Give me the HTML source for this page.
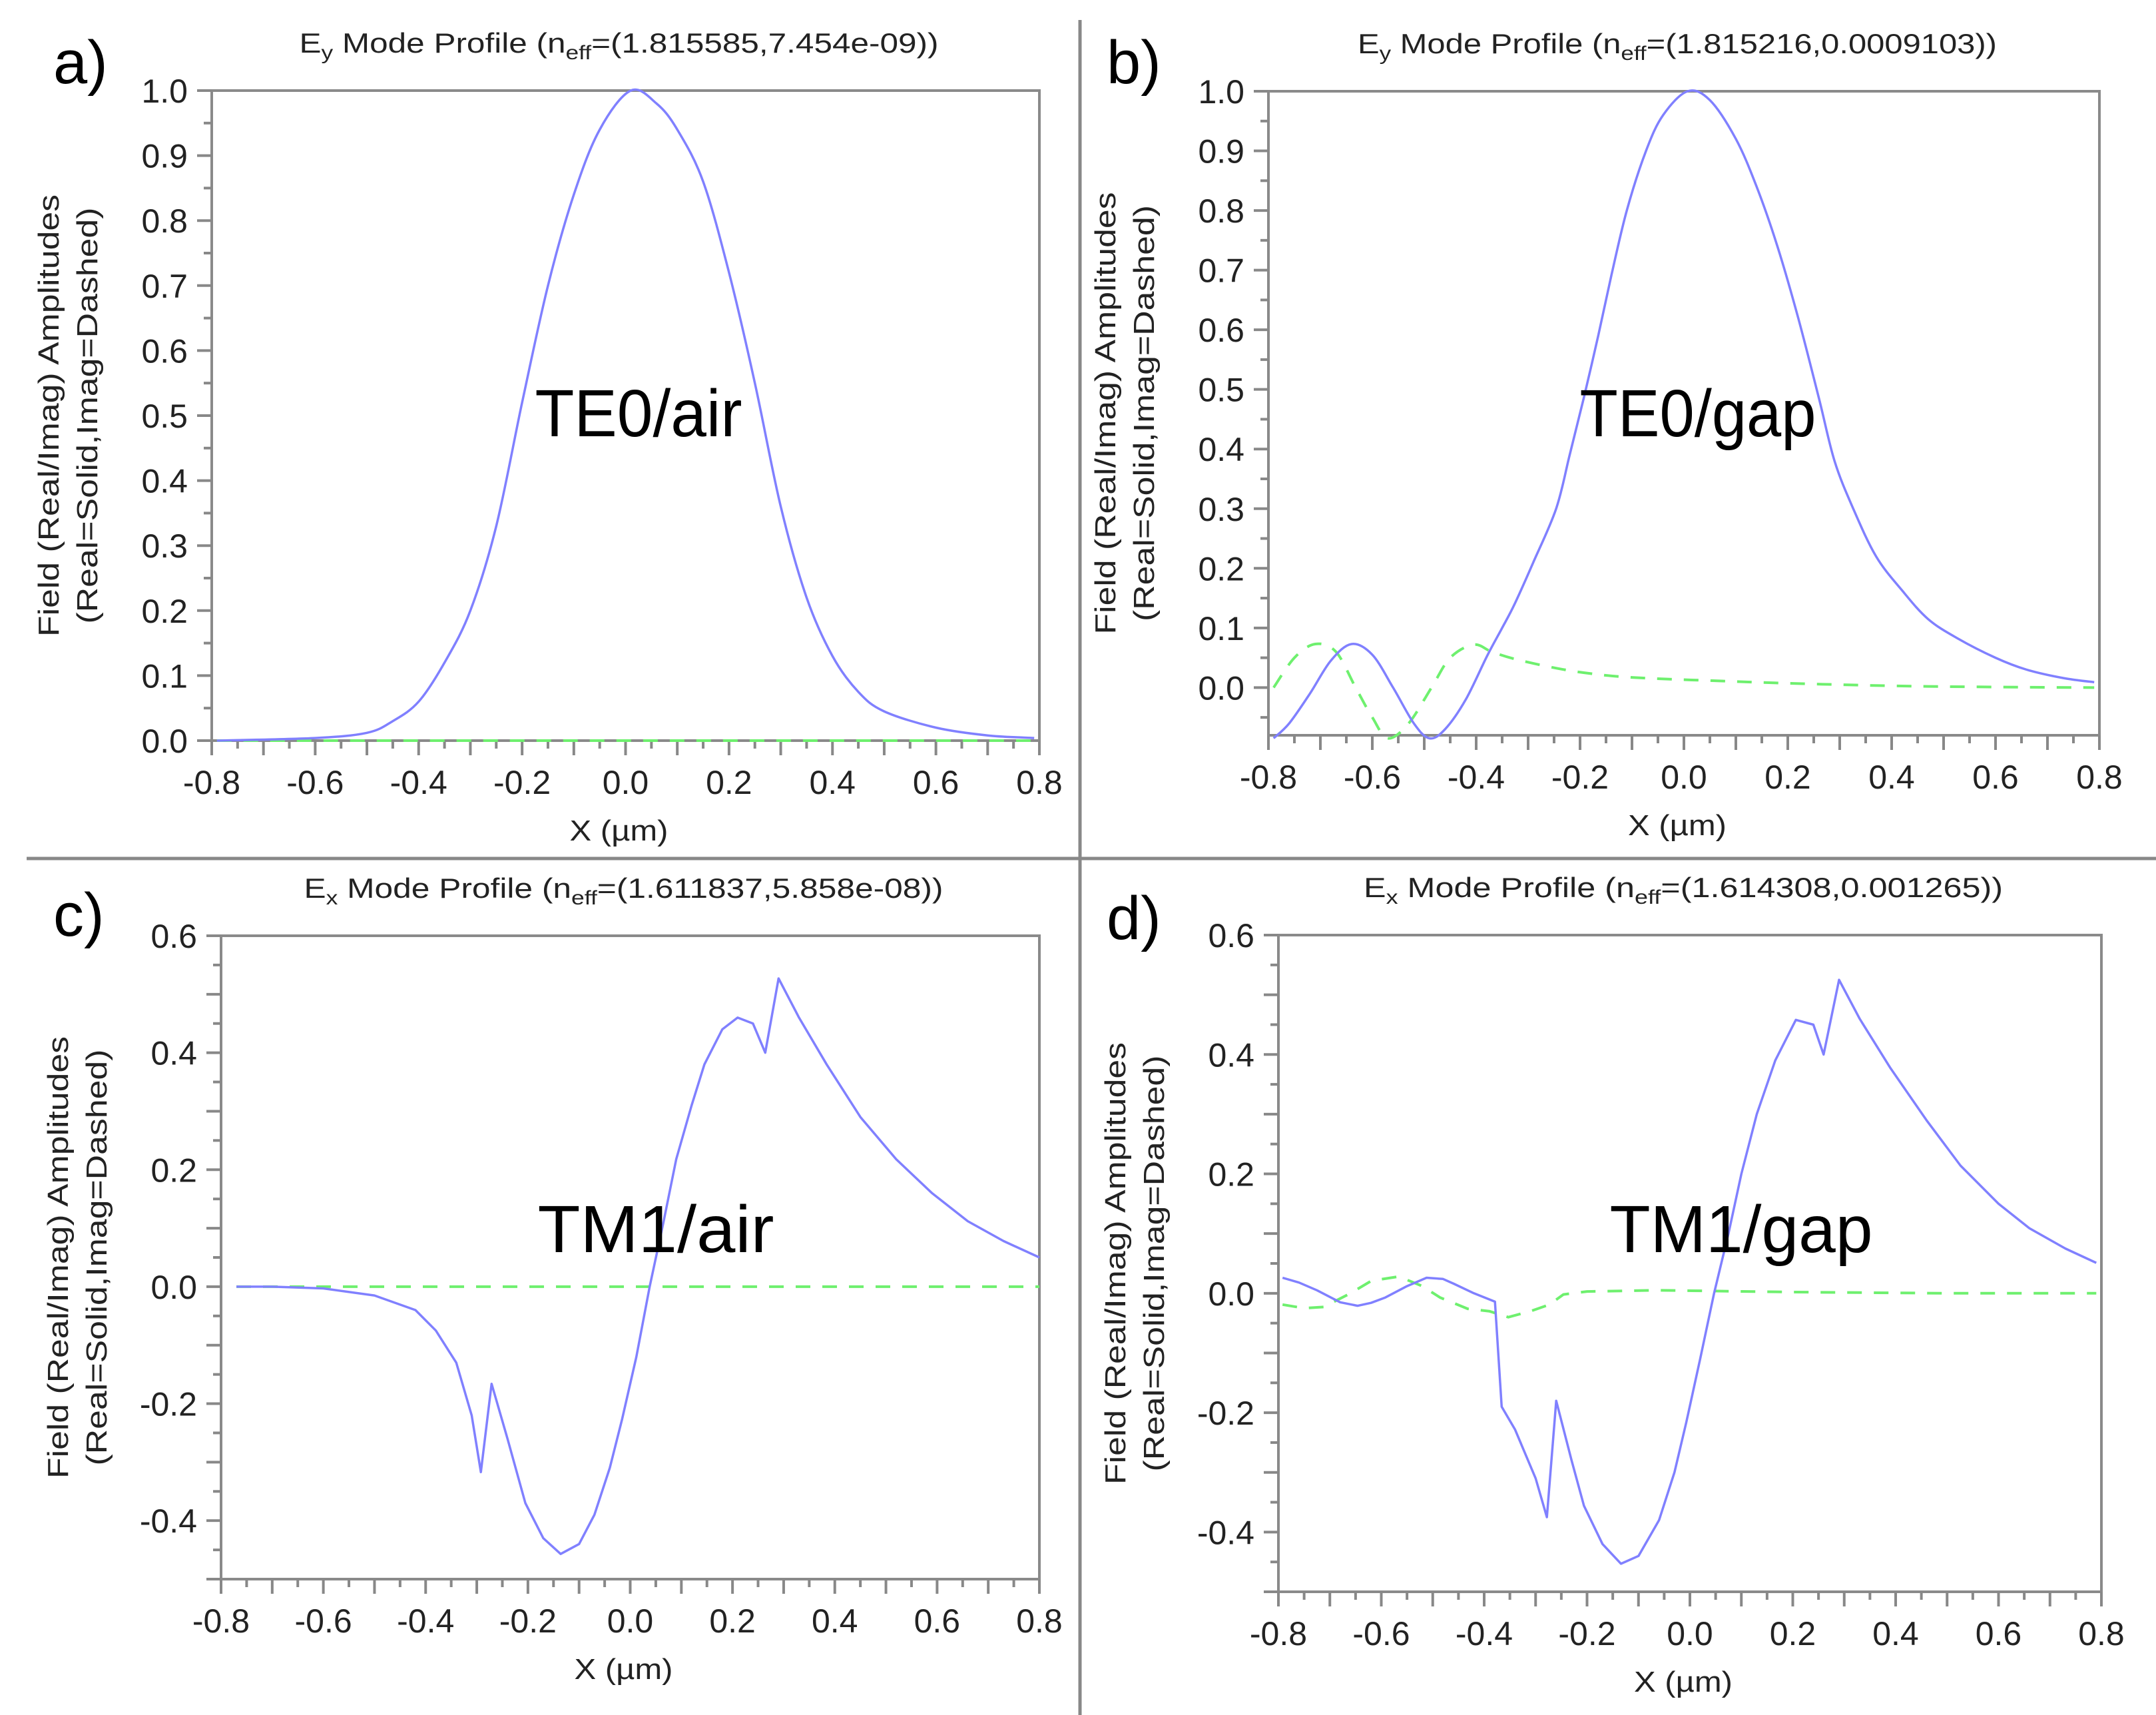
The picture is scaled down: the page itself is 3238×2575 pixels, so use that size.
<!DOCTYPE html>
<html><head><meta charset="utf-8"><style>
html,body{margin:0;padding:0;background:#fff;}
svg{display:block;}
text{font-family:"Liberation Sans",sans-serif;fill:#222;}
</style></head><body>
<svg id="fig" width="3238" height="2575" viewBox="0 0 3238 2575" xmlns="http://www.w3.org/2000/svg">
<rect width="3238" height="2575" fill="#fff"/>
<line x1="1622" y1="30" x2="1622" y2="2575" stroke="#888" stroke-width="5"/>
<line x1="40" y1="1289" x2="3238" y2="1289" stroke="#888" stroke-width="5"/>
</svg>
<script>
// ---- Panel a data ----
const aRealX = [-0.79,-0.6,-0.5,-0.45,-0.4,-0.35,-0.3,-0.25,-0.2,-0.15,-0.1,-0.05,0.01,0.06,0.1,0.15,0.2,0.25,0.3,0.35,0.4,0.45,0.5,0.6,0.7,0.79];
const aRealY = [0.0,0.004,0.012,0.03,0.06,0.12,0.2,0.33,0.52,0.7,0.84,0.94,1.0,0.98,0.94,0.86,0.72,0.55,0.36,0.22,0.13,0.075,0.045,0.02,0.008,0.004];
const aImagX = [-0.79,0.79];
const aImagY = [0,0];
// ---- Panel b data ----
const bRealX = [-0.79,-0.76,-0.72,-0.68,-0.64,-0.6,-0.56,-0.52,-0.49,-0.46,-0.42,-0.379,-0.35,-0.326,-0.29,-0.246,-0.22,-0.193,-0.165,-0.14,-0.11,-0.073,-0.04,0.007,0.05,0.1,0.14,0.18,0.22,0.26,0.29,0.326,0.37,0.42,0.47,0.526,0.6,0.66,0.73,0.79];
const bRealY = [-0.085,-0.06,-0.01,0.045,0.073,0.055,0.0,-0.06,-0.085,-0.07,-0.02,0.053,0.1,0.14,0.21,0.3,0.39,0.485,0.59,0.69,0.8,0.9,0.96,1.0,0.985,0.92,0.84,0.74,0.62,0.485,0.38,0.3,0.22,0.163,0.115,0.083,0.05,0.03,0.016,0.009];
const bImagX = [-0.79,-0.75,-0.71,-0.67,-0.632,-0.6,-0.57,-0.53,-0.486,-0.45,-0.405,-0.37,-0.326,-0.26,-0.193,-0.1,0.073,0.25,0.47,0.79];
const bImagY = [0.0,0.05,0.073,0.06,0.0,-0.05,-0.085,-0.06,0.0,0.05,0.072,0.06,0.048,0.035,0.025,0.017,0.011,0.006,0.002,0.0];
// ---- Panel c data ----
const cRealX = [-0.77,-0.7,-0.6,-0.5,-0.42,-0.38,-0.34,-0.31,-0.292,-0.271,-0.24,-0.205,-0.17,-0.136,-0.1,-0.07,-0.04,-0.016,0.012,0.038,0.065,0.09,0.12,0.145,0.18,0.21,0.24,0.264,0.29,0.33,0.384,0.45,0.52,0.59,0.66,0.73,0.8];
const cRealY = [0.0,0.0,-0.003,-0.015,-0.04,-0.075,-0.13,-0.22,-0.317,-0.166,-0.26,-0.37,-0.43,-0.457,-0.44,-0.39,-0.31,-0.227,-0.12,0.0,0.11,0.218,0.31,0.38,0.44,0.46,0.45,0.40,0.527,0.46,0.38,0.29,0.218,0.16,0.112,0.078,0.05];
const cImagX = [-0.77,0.8];
const cImagY = [0,0];
// ---- Panel d data ----
const dRealX = [-0.792,-0.76,-0.725,-0.68,-0.646,-0.62,-0.592,-0.55,-0.512,-0.48,-0.459,-0.42,-0.379,-0.366,-0.34,-0.3,-0.278,-0.26,-0.23,-0.206,-0.17,-0.134,-0.1,-0.06,-0.03,-0.007,0.02,0.047,0.075,0.1,0.13,0.166,0.206,0.24,0.26,0.29,0.33,0.39,0.46,0.526,0.6,0.66,0.73,0.79];
const dRealY = [0.026,0.018,0.005,-0.015,-0.021,-0.016,-0.007,0.012,0.026,0.024,0.016,0.0,-0.014,-0.19,-0.228,-0.31,-0.375,-0.18,-0.28,-0.356,-0.42,-0.453,-0.44,-0.38,-0.3,-0.216,-0.11,0.0,0.1,0.2,0.3,0.39,0.458,0.45,0.40,0.525,0.46,0.377,0.29,0.214,0.15,0.109,0.075,0.051];
const dImagX = [-0.792,-0.75,-0.712,-0.66,-0.619,-0.566,-0.52,-0.486,-0.432,-0.39,-0.353,-0.31,-0.273,-0.246,-0.2,-0.06,0.2,0.5,0.79];
const dImagY = [-0.019,-0.025,-0.023,0.0,0.021,0.028,0.012,-0.007,-0.026,-0.03,-0.04,-0.03,-0.019,-0.002,0.003,0.005,0.002,0.0,0.0];

// tick label arrays
const yTicksTE = [0.0,0.1,0.2,0.3,0.4,0.5,0.6,0.7,0.8,0.9,1.0];
const yTicksTM = [-0.4,-0.2,0.0,0.2,0.4,0.6];
const xTicks = [-0.8,-0.6,-0.4,-0.2,0.0,0.2,0.4,0.6,0.8];

const NS = "http://www.w3.org/2000/svg";
const svg = document.getElementById('fig');
function mk(tag, attrs, parent){ const e=document.createElementNS(NS,tag); for(const k in attrs) e.setAttribute(k,attrs[k]); (parent||svg).appendChild(e); return e; }

function pathFrom(P, smooth){
  let d = 'M'+P[0][0].toFixed(1)+' '+P[0][1].toFixed(1);
  for(let i=1;i<P.length;i++){
    if(!smooth){ d += ' L'+P[i][0].toFixed(1)+' '+P[i][1].toFixed(1); continue; }
    const p0=P[Math.max(0,i-2)], p1=P[i-1], p2=P[i], p3=P[Math.min(P.length-1,i+1)];
    const c1=[p1[0]+(p2[0]-p0[0])/6, p1[1]+(p2[1]-p0[1])/6];
    const c2=[p2[0]-(p3[0]-p1[0])/6, p2[1]-(p3[1]-p1[1])/6];
    d += ' C'+c1[0].toFixed(1)+' '+c1[1].toFixed(1)+' '+c2[0].toFixed(1)+' '+c2[1].toFixed(1)+' '+p2[0].toFixed(1)+' '+p2[1].toFixed(1);
  }
  return d;
}

function panel(p){
  const g = mk('g',{});
  
  
  const sx = v => p.L + (v - (-0.8)) / 1.6 * (p.R - p.L);
  const sy = v => p.B - (v - p.ymin) / (p.ymax - p.ymin) * (p.B - p.T);
  const fr = mk('rect',{x:p.L,y:p.T,width:p.R-p.L,height:p.B-p.T,fill:'none',stroke:'#8a8a8a','stroke-width':4},g);
  
  
  const n0 = Math.ceil(p.ymin/0.05 - 1e-6), n1 = Math.floor(p.ymax/0.05 + 1e-6);
  for(let n=n0;n<=n1;n++){
    const major = (n%2===0);
    const y = sy(n*0.05);
    mk('line',{x1:p.L-(major?22:12),y1:y,x2:p.L,y2:y,stroke:'#888','stroke-width':4},g);
  }
  for(let n=-16;n<=16;n++){
    const major = (n%2===0);
    const x = sx(n*0.05);
    mk('line',{x1:x,y1:p.B,x2:x,y2:p.B+(major?22:12),stroke:'#888','stroke-width':4},g);
  }
  p.yt.forEach(v=>{
    const t = mk('text',{x:p.L-36,y:sy(v)+18,'font-size':50,'text-anchor':'end'},g);
    t.textContent = v.toFixed(1);
    
    
  });
  xTicks.forEach(v=>{
    const t = mk('text',{x:sx(v),y:p.B+80,'font-size':50,'text-anchor':'middle'},g);
    t.textContent = v.toFixed(1);
    
    
  });
  function series(X,Y,dashed,name){
    const P = X.map((x,i)=>[sx(x), sy(Y[i])]);
    const path = mk('path',{d:pathFrom(P, p.smooth),fill:'none',stroke:dashed?'#6ef06e':'#8080ff','stroke-width':dashed?4:3.5,'stroke-dasharray':dashed?'22 18':'none','stroke-linejoin':'round'},g);
    
    
  }
  series(p.ix,p.iy,true,p.id+'-imag-dashed-line');
  series(p.rx,p.ry,false,p.id+'-real-solid-line');
  const cx = (p.L+p.R)/2;
  const tt = mk('text',{x:cx-10,y:p.T-57,'font-size':42,'text-anchor':'middle',textLength:960,lengthAdjust:'spacingAndGlyphs'},g);
  tt.innerHTML = p.comp[0]+'<tspan dy="10" font-size="30">'+p.comp[1]+'</tspan><tspan dy="-10"> Mode Profile (n</tspan><tspan dy="10" font-size="30">eff</tspan><tspan dy="-10">=('+p.neff+'))</tspan>';
  
  
  const xt = mk('text',{x:cx-10,y:p.B+150,'font-size':44,'text-anchor':'middle',textLength:148,lengthAdjust:'spacingAndGlyphs'},g);
  xt.textContent = 'X (µm)';
  
  
  const my = (p.T+p.B)/2;
  const y1 = mk('text',{x:0,y:0,'font-size':44,'text-anchor':'middle',textLength:664,lengthAdjust:'spacingAndGlyphs',transform:'translate('+(p.L-230)+','+my+') rotate(-90)'},g);
  y1.textContent = 'Field (Real/Imag) Amplitudes';
  
  
  const y2 = mk('text',{x:0,y:0,'font-size':44,'text-anchor':'middle',textLength:625,lengthAdjust:'spacingAndGlyphs',transform:'translate('+(p.L-172)+','+my+') rotate(-90)'},g);
  y2.textContent = '(Real=Solid,Imag=Dashed)';
  
  
  const an = mk('text',{x:p.ax,y:p.ay,'font-size':100,'text-anchor':'middle',textLength:p.aw,lengthAdjust:'spacingAndGlyphs',style:'fill:#000'},g);
  an.textContent = p.ann;
  
  
  const pl = mk('text',{x:p.plx,y:p.ply,'font-size':92,style:'fill:#000'},g);
  pl.textContent = p.id+')';
  
  
}

panel({id:'a',smooth:true,L:318,R:1561,T:136,B:1112,ymin:0,ymax:1,yt:yTicksTE,rx:aRealX,ry:aRealY,ix:aImagX,iy:aImagY,comp:['E','y'],neff:'1.815585,7.454e-09',ann:'TE0/air',ax:959,ay:655,aw:311,plx:80,ply:125});
panel({id:'b',smooth:true,L:1905,R:3153,T:137,B:1104,ymin:-0.08,ymax:1,yt:yTicksTE,rx:bRealX,ry:bRealY,ix:bImagX,iy:bImagY,comp:['E','y'],neff:'1.815216,0.0009103',ann:'TE0/gap',ax:2550,ay:655,aw:355,plx:1662,ply:125});
panel({id:'c',smooth:false,L:332,R:1561,T:1405,B:2371,ymin:-0.5,ymax:0.6,yt:yTicksTM,rx:cRealX,ry:cRealY,ix:cImagX,iy:cImagY,comp:['E','x'],neff:'1.611837,5.858e-08',ann:'TM1/air',ax:985,ay:1880,aw:355,plx:80,ply:1405});
panel({id:'d',smooth:false,L:1920,R:3156,T:1404,B:2390,ymin:-0.5,ymax:0.6,yt:yTicksTM,rx:dRealX,ry:dRealY,ix:dImagX,iy:dImagY,comp:['E','x'],neff:'1.614308,0.001265',ann:'TM1/gap',ax:2615,ay:1880,aw:395,plx:1662,ply:1410});
</script>
</body></html>
